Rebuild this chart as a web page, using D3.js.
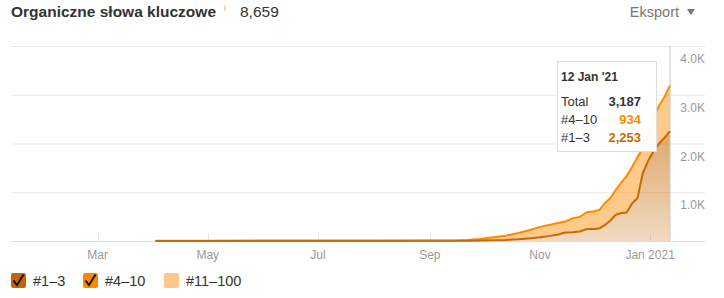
<!doctype html>
<html>
<head>
<meta charset="utf-8">
<title>Organiczne słowa kluczowe</title>
<script src="https://d3js.org/d3.v7.min.js"></script>
<style>
body { margin: 0; background: #fff; }
svg text { font-family: "Liberation Sans", Arial, sans-serif; }
</style>
</head>
<body>
<svg width="724" height="298"></svg>
<script>
// data
var dates = ["2020-04-02", "2020-05-01", "2020-06-01", "2020-07-01", "2020-08-01", "2020-09-01",
    "2020-09-15", "2020-09-22", "2020-09-29", "2020-10-06", "2020-10-13", "2020-10-20",
    "2020-10-27", "2020-11-01", "2020-11-06", "2020-11-11", "2020-11-15", "2020-11-19",
    "2020-11-23", "2020-11-27", "2020-12-01", "2020-12-04", "2020-12-07", "2020-12-10",
    "2020-12-13", "2020-12-16", "2020-12-19", "2020-12-22", "2020-12-25", "2020-12-28",
    "2020-12-31", "2021-01-03", "2021-01-06", "2021-01-09", "2021-01-12"]
var pos_1_3 = [2, 2, 3, 3, 3, 4, 5, 5, 8, 15, 22, 35, 55, 75, 100, 135, 175, 180, 195, 245,
    248, 260, 330, 420, 540, 575, 585, 770, 880, 1400, 1650, 1850, 2000, 2120, 2253]
var pos_4_10 = [1, 2, 3, 2, 3, 4, 7, 15, 32, 60, 88, 130, 175, 215, 230, 235, 225, 285, 300, 345,
    362, 380, 450, 460, 510, 625, 745, 750, 840, 500, 550, 700, 780, 840, 934]
var y_ticks = [1000, 2000, 3000, 4000]
var x_ticks = ["2020-03-01", "2020-05-01", "2020-07-01", "2020-09-01", "2020-11-01", "2021-01-01"]
var total_keywords = "8,659"

var parse = d3.timeParse("%Y-%m-%d")
var rows = dates.map(function (d, i) {
    return { date: parse(d), a: pos_1_3[i], b: pos_4_10[i] }
})

var svg = d3.select("svg")
var left = 11, right = 670, grid_right = 705
var top_y = 46, bottom_y = 241

var x = d3.scaleTime()
    .domain([parse("2020-01-13"), parse("2021-01-12")])
    .range([left, right])
var y = d3.scaleLinear().domain([0, 4000]).range([bottom_y, top_y])

// header
svg.append("text")
    .attr("x", 11).attr("y", 17)
    .attr("font-size", "15.5px").attr("font-weight", "bold").attr("fill", "#333")
    .text("Organiczne słowa kluczowe")
svg.append("text")
    .attr("x", 224).attr("y", 11)
    .attr("font-size", "9px").attr("fill", "#aaa")
    .text("i")
svg.append("text")
    .attr("x", 240).attr("y", 17)
    .attr("font-size", "15.5px").attr("fill", "#333")
    .text(total_keywords)
svg.append("text")
    .attr("x", 679).attr("y", 17).attr("text-anchor", "end")
    .attr("font-size", "14.5px").attr("fill", "#777")
    .text("Eksport")
svg.append("path")
    .attr("d", "M687,9 L695,9 L691,15 Z")
    .attr("fill", "#777")

// gridlines
var grid = svg.append("g")
grid.selectAll("line.h")
    .data([0].concat(y_ticks))
    .enter().append("line")
    .attr("x1", left).attr("x2", grid_right)
    .attr("y1", function (d) { return y(d) + 0.5 }).attr("y2", function (d) { return y(d) + 0.5 })
    .attr("stroke", function (d) { return d === 0 ? "#dcdcdc" : "#e8e8e8" })
    .attr("stroke-width", 1)
grid.selectAll("line.v")
    .data(x_ticks)
    .enter().append("line")
    .attr("x1", function (d) { return Math.round(x(parse(d))) + 0.5 })
    .attr("x2", function (d) { return Math.round(x(parse(d))) + 0.5 })
    .attr("y1", bottom_y - 7).attr("y2", bottom_y)
    .attr("stroke", "#e4e4e4")

// gradient for the #1-3 area
var defs = svg.append("defs")
var grad = defs.append("linearGradient")
    .attr("id", "lowgrad").attr("gradientUnits", "userSpaceOnUse")
    .attr("x1", 0).attr("x2", 0).attr("y1", top_y).attr("y2", bottom_y)
grad.append("stop").attr("offset", "0%").attr("stop-color", "#c87010").attr("stop-opacity", 0.88)
grad.append("stop").attr("offset", "100%").attr("stop-color", "#c87010").attr("stop-opacity", 0.26)

var area_low = d3.area()
    .x(function (d) { return x(d.date) })
    .y0(y(0))
    .y1(function (d) { return y(d.a) })
var area_high = d3.area()
    .x(function (d) { return x(d.date) })
    .y0(function (d) { return y(d.a) })
    .y1(function (d) { return y(d.a + d.b) })
var line_low = d3.line()
    .x(function (d) { return x(d.date) })
    .y(function (d) { return y(d.a) })
var line_high = d3.line()
    .x(function (d) { return x(d.date) })
    .y(function (d) { return y(d.a + d.b) })

svg.append("path").datum(rows)
    .attr("d", area_high).attr("fill", "#ff8c00").attr("fill-opacity", 0.46)
svg.append("path").datum(rows)
    .attr("d", area_low).attr("fill", "url(#lowgrad)")

// crosshair on last day
var last = rows[rows.length - 1]
svg.append("line")
    .attr("x1", x(last.date)).attr("x2", x(last.date))
    .attr("y1", top_y).attr("y2", bottom_y)
    .attr("stroke", "#c8c8c8").attr("stroke-width", 1)

svg.append("path").datum(rows)
    .attr("d", line_high).attr("fill", "none")
    .attr("stroke", "#ff8a00").attr("stroke-width", 2).attr("stroke-linejoin", "round")
svg.append("path").datum(rows)
    .attr("d", line_low).attr("fill", "none")
    .attr("stroke", "#c86a00").attr("stroke-width", 2).attr("stroke-linejoin", "round")

// axes labels
svg.selectAll("text.ylab")
    .data(y_ticks)
    .enter().append("text")
    .attr("class", "ylab")
    .attr("x", 705).attr("y", function (d) { return y(d) + 17 })
    .attr("text-anchor", "end").attr("font-size", "12px").attr("fill", "#999")
    .text(function (d) { return (d / 1000).toFixed(1) + "K" })
var fmt_month = d3.timeFormat("%b")
svg.selectAll("text.xlab")
    .data(x_ticks)
    .enter().append("text")
    .attr("class", "xlab")
    .attr("x", function (d) { return x(parse(d)) })
    .attr("y", 258.5)
    .attr("text-anchor", "middle").attr("font-size", "12px").attr("fill", "#999")
    .text(function (d) {
        var dt = parse(d)
        return dt.getMonth() === 0 ? fmt_month(dt) + " " + dt.getFullYear() : fmt_month(dt)
    })

// tooltip
var tip = svg.append("g").attr("transform", "translate(557,61)")
tip.append("rect")
    .attr("x", 0.5).attr("y", 0.5).attr("width", 99).attr("height", 90)
    .attr("fill", "#fff").attr("fill-opacity", 0.95).attr("stroke", "#ddd")
tip.append("text")
    .attr("x", 4).attr("y", 20)
    .attr("font-size", "12px").attr("font-weight", "bold").attr("fill", "#333")
    .text(d3.timeFormat("%d %b '%y")(last.date))
var tip_rows = [
    ["Total", last.a + last.b, "#333"],
    ["#4–10", last.b, "#ff8a00"],
    ["#1–3", last.a, "#c86a00"]
]
tip_rows.forEach(function (r, i) {
    tip.append("text")
        .attr("x", 4).attr("y", 45 + i * 18)
        .attr("font-size", "13px").attr("fill", "#333")
        .text(r[0])
    tip.append("text")
        .attr("x", 84).attr("y", 45 + i * 18).attr("text-anchor", "end")
        .attr("font-size", "13px").attr("font-weight", "bold").attr("fill", r[2])
        .text(d3.format(",")(r[1]))
})

// legend
var legend = [
    ["#1–3", "#c86400", true, 11],
    ["#4–10", "#ff8800", true, 83],
    ["#11–100", "#ffc88a", false, 164]
]
legend.forEach(function (l) {
    var g = svg.append("g").attr("transform", "translate(" + l[3] + ",273)")
    g.append("rect")
        .attr("width", 15).attr("height", 15).attr("rx", 2)
        .attr("fill", l[1])
    if (l[2]) {
        g.append("path")
            .attr("d", "M2.5,7.5 L6,12 L12.5,1.5")
            .attr("fill", "none").attr("stroke", "#111").attr("stroke-width", 2)
    }
    g.append("text")
        .attr("x", 22).attr("y", 13)
        .attr("font-size", "14.5px").attr("fill", "#333")
        .text(l[0])
})
</script>
</body>
</html>
